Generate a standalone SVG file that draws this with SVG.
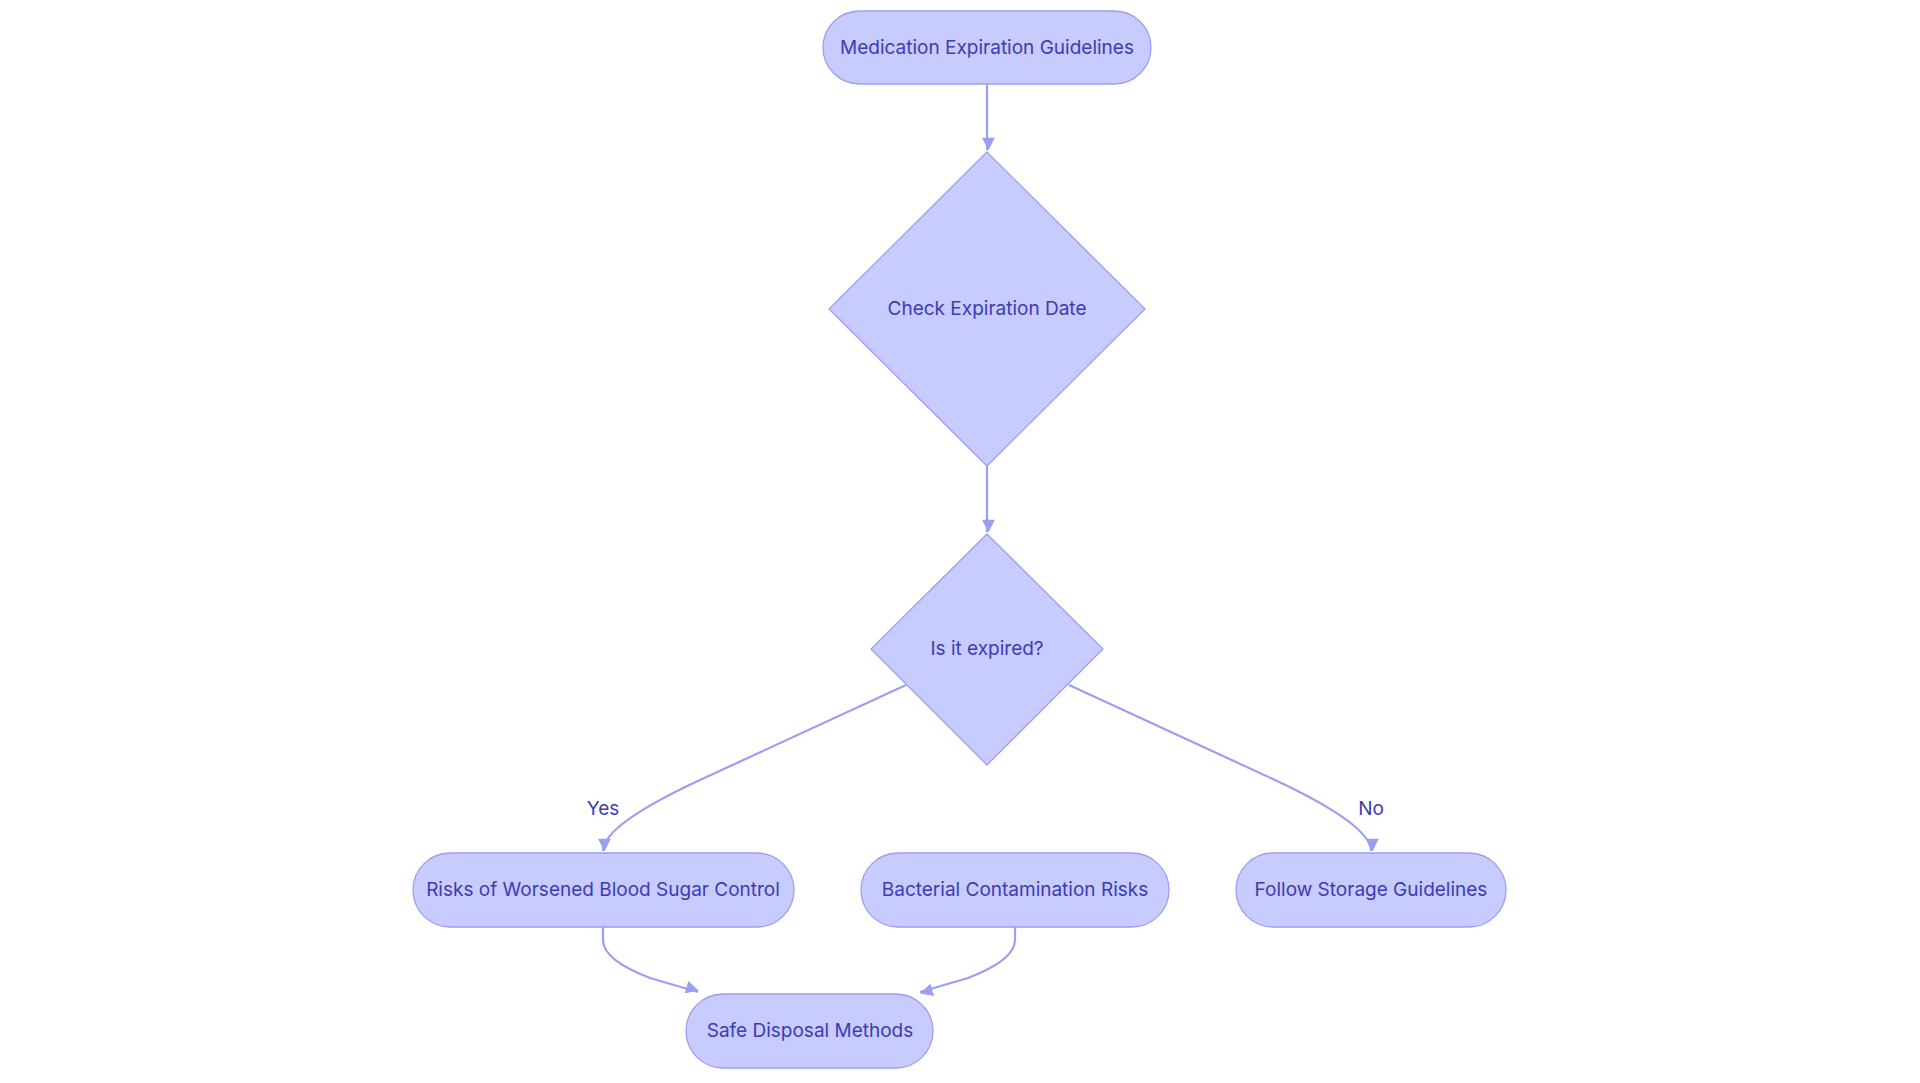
<svg xmlns="http://www.w3.org/2000/svg" width="1920" height="1083" viewBox="0 0 1920 1083">
<style>
.n{fill:#c8cbfd;stroke:#9a9ff0;stroke-width:1.3}
.t{font-family:Inter,"Noto Sans",sans-serif;font-size:19px;fill:#3c3cb4;text-anchor:middle;dominant-baseline:central}
.e{fill:none;stroke:#9a9ff0;stroke-width:2.2}
</style>
<defs><marker id="a" viewBox="0 0 10 10" refX="9" refY="5" markerWidth="8" markerHeight="8" markerUnits="userSpaceOnUse" orient="auto" style="overflow:visible"><path d="M0,0L10,5L0,10z" fill="#9a9ff0" transform="scale(1.6) translate(-4,-3)"/></marker></defs>
<rect width="1920" height="1083" fill="#fff"/>
<g id="edges">
<path class="e" d="M987,84 L987,150" marker-end="url(#a)"/>
<path class="e" d="M987,465 L987,532" marker-end="url(#a)"/>
<path class="e" d="M906,685 L700,780 Q603,825 603,851" marker-end="url(#a)"/>
<path class="e" d="M1069,685 L1275,780 Q1371,825 1371,851" marker-end="url(#a)"/>
<path class="e" d="M603,927 L603,940 Q603,960 650,978 L698,992" marker-end="url(#a)"/>
<path class="e" d="M1015,927 L1015,940 Q1015,960 968,978 L920,992" marker-end="url(#a)"/>
<text class="t" x="603" y="808">Yes</text>
<text class="t" x="1371" y="808">No</text>
</g>
<g id="n1"><rect class="n" x="823" y="11" width="328" height="73" rx="36.5"/><text class="t" x="987" y="47">Medication Expiration Guidelines</text></g>
<g id="n2"><path class="n" d="M987,152 L1145,309 L987,466 L829,309z"/><text class="t" x="987" y="308">Check Expiration Date</text></g>
<g id="n3"><path class="n" d="M987,534 L1103,649 L987,765 L871,649z"/><text class="t" x="987" y="648">Is it expired?</text></g>
<g id="n4"><rect class="n" x="413" y="853" width="381" height="74" rx="37"/><text class="t" x="603" y="889">Risks of Worsened Blood Sugar Control</text></g>
<g id="n5"><rect class="n" x="861" y="853" width="308" height="74" rx="37"/><text class="t" x="1015" y="889">Bacterial Contamination Risks</text></g>
<g id="n6"><rect class="n" x="1236" y="853" width="270" height="74" rx="37"/><text class="t" x="1371" y="889">Follow Storage Guidelines</text></g>
<g id="n7"><rect class="n" x="686" y="994" width="247" height="74" rx="37"/><text class="t" x="810" y="1030">Safe Disposal Methods</text></g>
</svg>
